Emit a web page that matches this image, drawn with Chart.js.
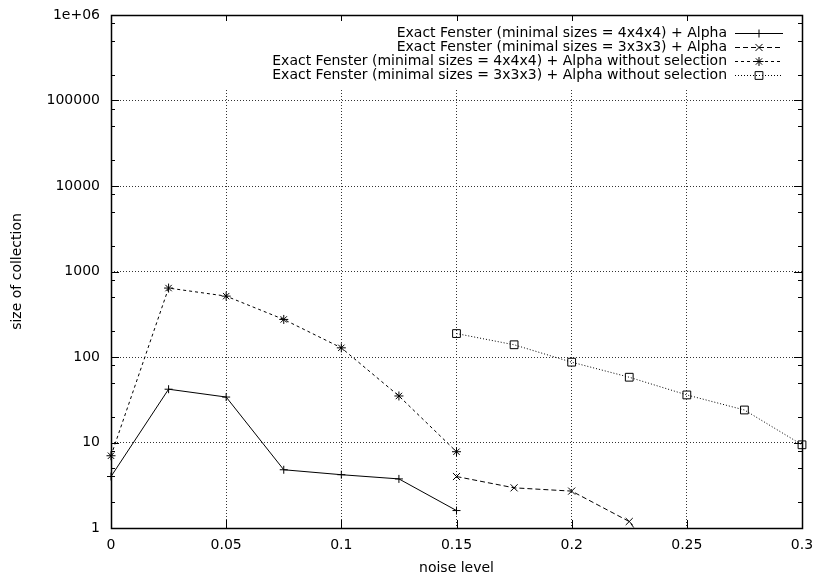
<!DOCTYPE html>
<html>
<head>
<meta charset="utf-8">
<script src="https://cdn.jsdelivr.net/npm/chart.js@4/dist/chart.umd.min.js"></script>
<style>
  html, body { margin: 0; padding: 0; background: #fff; }
  canvas { display: block; }
</style>
</head>
<body>
<canvas id="chart" width="815" height="584"></canvas>
<script>
// --- Data ---
const seriesLabels = [
    'Exact Fenster (minimal sizes = 4x4x4) + Alpha',
    'Exact Fenster (minimal sizes = 3x3x3) + Alpha',
    'Exact Fenster (minimal sizes = 4x4x4) + Alpha without selection',
    'Exact Fenster (minimal sizes = 3x3x3) + Alpha without selection'
];
const noise444 = [0, 0.025, 0.05, 0.075, 0.1, 0.125, 0.15];
const exact444 = [4.0, 42, 34, 4.8, 4.2, 3.75, 1.6];
const noise333 = [0.15, 0.175, 0.2, 0.225, 0.25];
const exact333 = [4.0, 2.95, 2.7, 1.19, 0.15];
const noSel444 = [7.0, 640, 515, 275, 128, 35, 7.8];
const noiseNoSel333 = [0.15, 0.175, 0.2, 0.225, 0.25, 0.275, 0.3];
const noSel333 = [188, 139, 87, 58, 36, 24, 9.4];
const xTicks = [0, 0.05, 0.1, 0.15, 0.2, 0.25, 0.3];
const yTicks = [1, 10, 100, 1000, 10000, 100000, 1000000];
const yMinorSteps = [2, 5, 8];

const FONT = { family: '"DejaVu Sans", sans-serif', size: 14 };
const pts = (xs, ys) => xs.map((x, i) => ({ x: x, y: ys[i] }));

const styles = [
    { dash: [], pointStyle: 'cross', pointRadius: 4 },
    { dash: [5, 3], pointStyle: 'crossRot', pointRadius: 5 },
    { dash: [3, 3], pointStyle: 'star', pointRadius: 4.5 },
    { dash: [1, 2], pointStyle: 'rect', pointRadius: 5.5 }
];
const seriesData = [pts(noise444, exact444), pts(noise333, exact333), pts(noise444, noSel444), pts(noiseNoSel333, noSel333)];

const datasets = seriesData.map((d, i) => ({
    label: seriesLabels[i], data: d,
    borderColor: '#000', borderWidth: 1, borderDash: styles[i].dash,
    pointStyle: styles[i].pointStyle, pointRadius: styles[i].pointRadius,
    pointBorderColor: '#000', pointBackgroundColor: 'rgba(0,0,0,0)', pointBorderWidth: 1,
    tension: 0, clip: { left: 10, right: 10, top: 10, bottom: 0 }
}));

// --- gnuplot style frame, inner ticks and key ---
const gnuplotDecor = {
    id: 'gnuplotDecor',
    beforeDatasetsDraw(chart) {
        const ctx = chart.ctx, a = chart.chartArea;
        ctx.save();
        // key area hides the grid behind it
        ctx.fillStyle = '#fff';
        ctx.fillRect(a.left + 1, a.top + 1, a.right - a.left - 2, 88 - a.top);

        ctx.font = `${FONT.size}px ${FONT.family}`;
        ctx.textAlign = 'right'; ctx.textBaseline = 'middle';
        const textRight = 727;
        seriesLabels.forEach((t, i) => {
            const y = 33 + i * 14;
            ctx.fillStyle = '#000';
            ctx.fillText(t, textRight, y);
            ctx.strokeStyle = '#000'; ctx.lineWidth = 1;
            ctx.setLineDash(styles[i].dash);
            ctx.beginPath(); ctx.moveTo(735, y + 0.5); ctx.lineTo(783, y + 0.5); ctx.stroke();
            ctx.setLineDash([]);
            ctx.fillStyle = 'rgba(0,0,0,0)';
            Chart.helpers.drawPoint(ctx, { pointStyle: styles[i].pointStyle, radius: styles[i].pointRadius, rotation: 0, borderWidth: 1 }, 759, y + 0.5);
        });
        ctx.restore();
    },
    afterDraw(chart) {
        const ctx = chart.ctx, a = chart.chartArea;
        const xs = chart.scales.x, ys = chart.scales.y;
        ctx.save();
        ctx.strokeStyle = '#000'; ctx.lineWidth = 1; ctx.setLineDash([]);
        ctx.beginPath();
        xTicks.forEach(v => {
            const px = Math.round(xs.getPixelForValue(v)) + 0.5;
            ctx.moveTo(px, a.bottom); ctx.lineTo(px, a.bottom - 8);
            ctx.moveTo(px, a.top); ctx.lineTo(px, a.top + 6);
        });
        yTicks.forEach(v => {
            const py = Math.round(ys.getPixelForValue(v)) + 0.5;
            ctx.moveTo(a.left, py); ctx.lineTo(a.left + 8, py);
            ctx.moveTo(a.right, py); ctx.lineTo(a.right - 8, py);
            if (v < 1000000) yMinorSteps.forEach(m => {
                const pm = Math.round(ys.getPixelForValue(v * m)) + 0.5;
                ctx.moveTo(a.left, pm); ctx.lineTo(a.left + 4, pm);
                ctx.moveTo(a.right, pm); ctx.lineTo(a.right - 4, pm);
            });
        });
        ctx.stroke();
        ctx.lineWidth = 1.5;
        ctx.strokeRect(Math.round(a.left) + 0.5, Math.round(a.top) + 0.5, Math.round(a.right - a.left), Math.round(a.bottom - a.top));
        ctx.restore();
    }
};

new Chart(document.getElementById('chart').getContext('2d'), {
    type: 'line',
    data: { datasets: datasets },
    options: {
        responsive: false, animation: false,
        layout: { autoPadding: false, padding: { top: 15, right: 13, left: 0, bottom: 0 } },
        plugins: { legend: { display: false }, tooltip: { enabled: false } },
        scales: {
            x: {
                type: 'linear', min: 0, max: 0.3,
                afterBuildTicks: s => { s.ticks = xTicks.map(v => ({ value: v })); },
                afterFit: s => { s.height = 56; s.paddingLeft = 0; s.paddingRight = 0; },
                ticks: { color: '#000', font: FONT, padding: 9, maxRotation: 0,
                    callback: v => String(Number(v.toFixed(3))) },
                grid: { color: '#333', lineWidth: 1, drawTicks: false },
                border: { display: false, dash: [1, 2] },
                title: { display: true, text: 'noise level', color: '#000', font: FONT, padding: { top: 0, bottom: 7 } }
            },
            y: {
                type: 'logarithmic', min: 1, max: 1000000,
                afterBuildTicks: s => { s.ticks = yTicks.map(v => ({ value: v })); },
                afterFit: s => { s.width = 111; s.paddingTop = 0; s.paddingBottom = 0; },
                ticks: { color: '#000', font: FONT, padding: 11,
                    callback: v => v === 1000000 ? '1e+06' : String(v) },
                grid: { color: '#333', lineWidth: 1, drawTicks: false },
                border: { display: false, dash: [1, 2] },
                title: { display: true, text: 'size of collection', color: '#000', font: FONT, padding: { top: 9, bottom: 0 } }
            }
        }
    },
    plugins: [gnuplotDecor]
});
</script>
</body>
</html>
